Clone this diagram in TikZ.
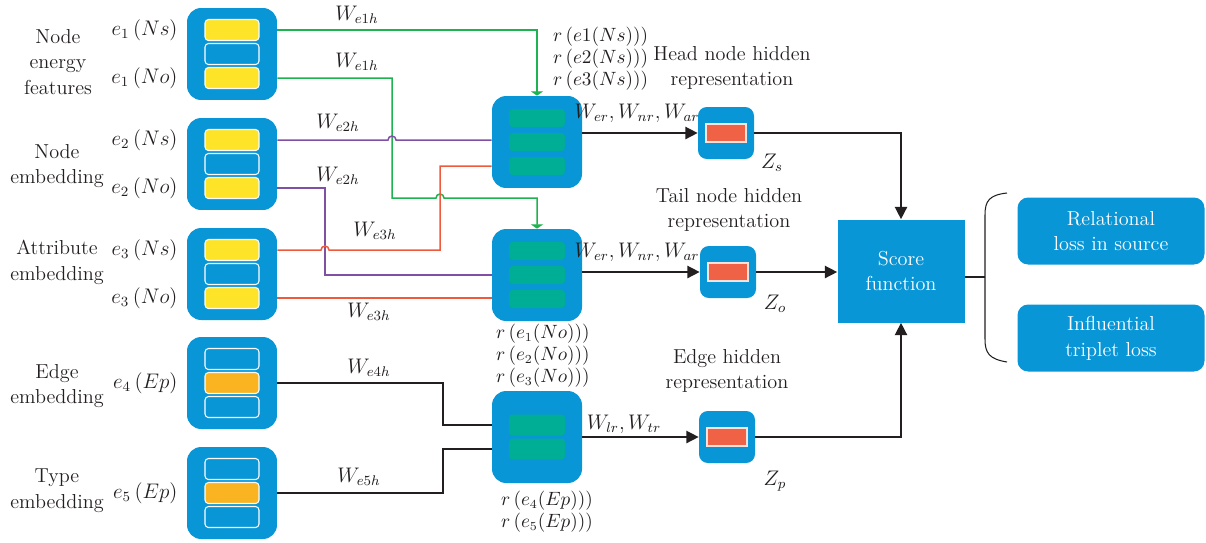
\documentclass[tikz,border=0pt]{standalone}
\usepackage{amsmath}
\usetikzlibrary{arrows.meta,positioning,calc}
\definecolor{boxblue}{RGB}{9,150,214}
\definecolor{barY}{RGB}{254,228,40}
\definecolor{barO}{RGB}{251,180,33}
\definecolor{barG}{RGB}{0,174,150}
\definecolor{barR}{RGB}{240,98,70}
\definecolor{lnG}{RGB}{30,178,80}
\definecolor{lnP}{RGB}{128,80,165}
\definecolor{lnR}{RGB}{240,90,60}
\definecolor{lnK}{RGB}{35,31,32}
\begin{document}
\begin{tikzpicture}[x=0.02cm,y=-0.02cm,every node/.style={font=\fontsize{11.5}{14.7}\selectfont,inner sep=1pt,text=lnK},
  emb/.style={fill=boxblue,rounded corners=8pt,minimum width=1.8cm,minimum height=1.84cm},
  hid/.style={fill=boxblue,rounded corners=5pt,minimum width=1.12cm,minimum height=1.04cm},
  ebar/.style={draw=white,line width=0.6pt,rounded corners=2pt,minimum width=1.08cm,minimum height=0.42cm,inner sep=0pt},
  gbar/.style={fill=barG,rounded corners=2pt,minimum width=1.12cm,inner sep=0pt},
  rbar/.style={fill=barR,draw=white!80!barR,line width=0.6pt,minimum width=0.8cm,minimum height=0.36cm,inner sep=0pt},
  outbox/.style={fill=boxblue,rounded corners=6pt,minimum width=3.74cm,minimum height=1.34cm,text=white,align=center},
  rlbl/.style={anchor=west,align=left,font=\fontsize{10.5}{12.5}\selectfont},
  wire/.style={line width=0.85pt},
  tip/.style={-{Triangle[length=7pt,width=7pt]}},
  gtip/.style={-{Triangle[length=2.5pt,width=7pt]}}]
\useasboundingbox (0,0) rectangle (1206,542);
\foreach \n/\y/\ca/\cb in {1/54/barY/boxblue,2/164/barY/boxblue,3/274/barY/boxblue,4/383/boxblue/barO,5/493/boxblue/barO}{
  \node[emb] (in\n) at (232,\y) {};
  \node[ebar,fill=\ca] (b\n1) at ($(in\n)+(0,-24)$) {};
  \node[ebar,fill=\cb] (b\n2) at (in\n) {};
  \node[ebar,fill=\ca] (b\n3) at ($(in\n)+(0,24)$) {};
}
\node[emb] (agg1) at (537,142) {}; \node[emb] (agg2) at (537,275) {}; \node[emb] (agg3) at (537,437) {};
\foreach \n in {1,2}{
  \node[gbar,minimum height=0.36cm] (a\n1) at ($(agg\n)+(0,-24)$) {};
  \node[gbar,minimum height=0.36cm] (a\n2) at (agg\n) {};
  \node[gbar,minimum height=0.36cm] (a\n3) at ($(agg\n)+(0,24)$) {};
}
\node[gbar,minimum height=0.42cm] (c1) at ($(agg3)+(0,-12)$) {};
\node[gbar,minimum height=0.42cm] (c2) at ($(agg3)+(0,12)$) {};
\node[hid] (h1) at (726,133) {}; \node[hid] (h2) at (728,272) {}; \node[hid] (h3) at (727,437) {};
\foreach \n in {1,2,3} \node[rbar] (z\n) at (h\n) {};
\node[fill=boxblue,minimum width=2.54cm,minimum height=2.06cm,text=white,align=center] (score) at (901,271) {Score\\function};
\node[outbox] (o1) at (1111,231) {Relational\\loss in source};
\node[outbox] (o2) at (1111,338) {Influential\\triplet loss};
\node[align=center] (cat1) at (58,62) {Node\\energy\\features};
\node[align=center] (cat2) at (57,166) {Node\\embedding};
\node[align=center] (cat3) at (57,262) {Attribute\\embedding};
\node[align=center] (cat4) at (57,386) {Edge\\embedding};
\node[align=center] (cat5) at (57,491) {Type\\embedding};
\node[left=4pt] (e11) at (in1.west|-b11) {$e_1\,(Ns)$}; \node[left=4pt] (e13) at (in1.west|-b13) {$e_1\,(No)$};
\node[left=4pt] (e21) at (in2.west|-b21) {$e_2\,(Ns)$}; \node[left=4pt] (e23) at (in2.west|-b23) {$e_2\,(No)$};
\node[left=4pt] (e31) at (in3.west|-b31) {$e_3\,(Ns)$}; \node[left=4pt] (e33) at (in3.west|-b33) {$e_3\,(No)$};
\node[left=4pt] (e42) at (in4.west|-b42) {$e_4\,(Ep)$}; \node[left=4pt] (e52) at (in5.west|-b52) {$e_5\,(Ep)$};
\coordinate (xg) at (392,0); \coordinate (xr) at (440,0); \coordinate (xp) at (325,0); \coordinate (xk) at (443,0); \coordinate (yg) at (0,198);
\draw[wire,lnG,gtip] (in1.east|-b11) -| (agg1.north);
\draw[wire,lnG,gtip] (in1.east|-b13) -| (xg|-yg) -- ($(xr|-yg)+(-4,0)$) arc[start angle=180,end angle=360,radius=4] -| (agg2.north);
\draw[wire,lnP] (in2.east|-b21) -- ($(xg|-b21)+(-4,0)$) arc[start angle=180,end angle=360,radius=4] -- (agg1.west|-b21);
\draw[wire,lnP] (in2.east|-b23) -| (xp|-a22) -- (agg2.west|-a22);
\draw[wire,lnR] (in3.east|-b31) -- ($(xp|-b31)+(-4,0)$) arc[start angle=180,end angle=360,radius=4] -| (xr|-a13) -- (agg1.west|-a13);
\draw[wire,lnR] (in3.east|-b33) -- (agg2.west|-b33);
\draw[wire,lnK] (in4.east|-b42) -| (xk|-c1) -- (agg3.west|-c1);
\draw[wire,lnK] (in5.east|-b52) -| (xk|-c2) -- (agg3.west|-c2);
\draw[wire,lnK,tip] (agg1.east|-h1) -- (h1.west); \draw[wire,lnK,tip] (agg2.east|-h2) -- (h2.west); \draw[wire,lnK,tip] (agg3.east|-h3) -- (h3.west);
\draw[wire,lnK,tip] (h1.east) -| (score.north); \draw[wire,lnK,tip] (h2.east) -- (score.west|-h2); \draw[wire,lnK,tip] (h3.east) -| (score.south);
\coordinate (br) at (985,277);
\draw[wire,lnK] (score.east|-br) -- (br);
\draw[lnK,line width=0.6pt] ($(br)+(22,-84)$) .. controls ($(br)+(4,-82)$) and ($(br)+(0,-76)$) .. ($(br)+(0,-62)$) -- ($(br)+(0,62)$) .. controls ($(br)+(0,76)$) and ($(br)+(4,82)$) .. ($(br)+(22,85)$);
\node (w1) at (357,15) {$W_{e1h}$}; \node (w2) at (357,62) {$W_{e1h}$};
\node (w3) at (338,123) {$W_{e2h}$}; \node (w4) at (338,176) {$W_{e2h}$};
\node (w5) at (375,231) {$W_{e3h}$}; \node (w6) at (369,312) {$W_{e3h}$};
\node (w7) at (369,368) {$W_{e4h}$}; \node (w8) at (359,477) {$W_{e5h}$};
\node[rlbl] (r1) at (551,59) {$r\,(e1(Ns)))$\\$r\,(e2(Ns)))$\\$r\,(e3(Ns)))$};
\node[rlbl] (r2) at (494,356) {$r\,(e_1(No)))$\\$r\,(e_2(No)))$\\$r\,(e_3(No)))$};
\node[rlbl] (r3) at (499,512) {$r\,(e_4(Ep)))$\\$r\,(e_5(Ep)))$};
\node[align=center] (t1) at (732,68) {Head node hidden\\representation};
\node[align=center] (t2) at (729,210) {Tail node hidden\\representation};
\node[align=center] (t3) at (727,371) {Edge hidden\\representation};
\node (m1) at (637,113) {$W_{er}, W_{nr}, W_{ar}$}; \node (m2) at (637,252) {$W_{er}, W_{nr}, W_{ar}$};
\node (m3) at (624,424) {$W_{lr}, W_{tr}$};
\node (zs) at (772,163) {$Z_s$}; \node (zo) at (775,304) {$Z_o$}; \node (zp) at (775,481) {$Z_p$};
\end{tikzpicture}
\end{document}
